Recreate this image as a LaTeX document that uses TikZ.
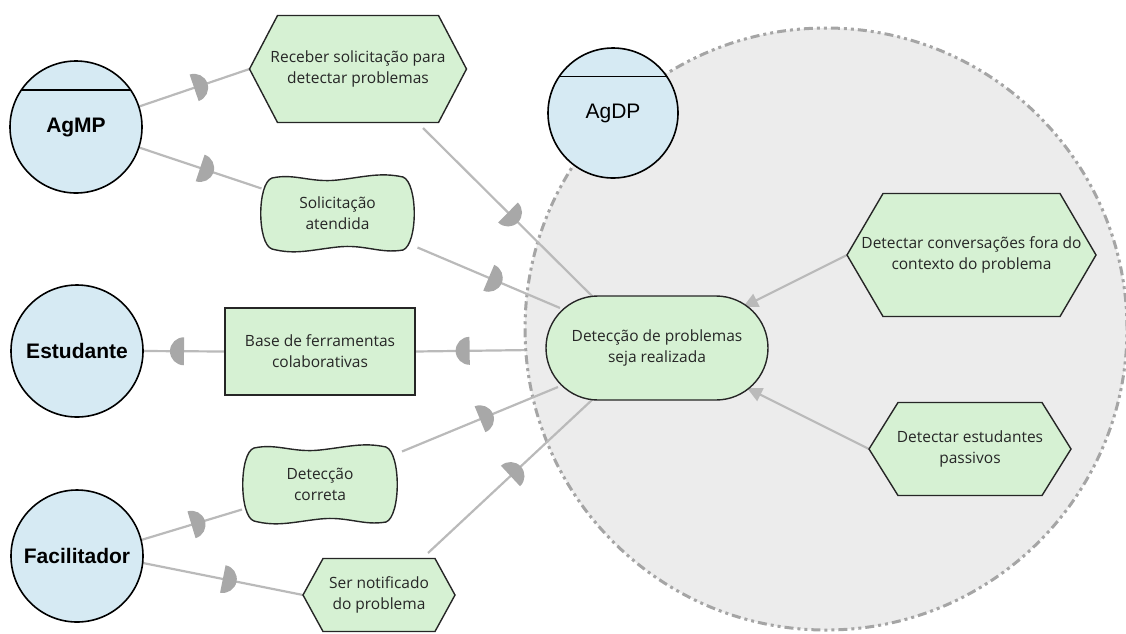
\documentclass[tikz,border=0pt]{standalone}
\usepackage{fontspec}
\setmainfont{Open Sans}
\newfontfamily\actorfont{Liberation Sans}
\usetikzlibrary{calc,arrows.meta,decorations.markings}

\pgfdeclarelayer{bg}
\pgfdeclarelayer{links}
\pgfdeclarelayer{shapes}
\pgfsetlayers{bg,links,shapes,main}

\definecolor{actfill}{RGB}{214,234,243}
\definecolor{elemfill}{RGB}{214,241,211}
\definecolor{bgfill}{RGB}{236,236,236}
\definecolor{linkgray}{RGB}{186,186,186}
\definecolor{dgray}{RGB}{168,168,168}
\definecolor{bndgray}{RGB}{165,165,165}
\definecolor{ink}{RGB}{38,38,38}

\tikzset{
  actor/.style={circle, draw=black, line width=1.6pt, fill=actfill,
    minimum size=132pt, inner sep=0pt, outer sep=0pt,
    font=\actorfont\bfseries\fontsize{21pt}{25pt}\selectfont},
  elemtext/.style={inner sep=0pt, outer sep=0pt, align=center, text=ink,
    font=\fontsize{15.5pt}{21pt}\selectfont},
  elemline/.style={draw=ink, line width=1.4pt, fill=elemfill, line join=miter},
  dep/.style={draw=linkgray, line width=2.2pt, postaction={decorate},
    decoration={markings, mark=at position 0.5 with {
      \fill[dgray] (0pt,-14pt) arc[start angle=-90, end angle=90, radius=14pt] -- cycle;}}},
  meansend/.style={draw=linkgray, line width=2.2pt,
    -{Triangle[length=15pt,width=14pt]}},
}

% hexagonal task outline centred on a node:
% #1 node, #2 half width of the flat edges, #3 half height, #4 pointer length
\newcommand{\drawhex}[4]{%
  \begin{scope}[shift={(#1.center)}]
    \draw[elemline] (-#2,-#3) -- (#2,-#3) -- (#2+#4,0) -- (#2,#3)
      -- (-#2,#3) -- (-#2-#4,0) -- cycle;
  \end{scope}}

% wavy softgoal outline around a text node: #1 node, #2 half width, #3 half height
\newcommand{\drawsoft}[3]{%
  \begin{scope}[shift={(#1.center)}]
    \draw[elemline]
      (-#2+12,-#3+1) .. controls (-#2+35,-#3-4) and (-0.35*#2,-#3+6) .. (0,-#3+3)
      .. controls (0.35*#2,-#3) and (#2-35,-#3-5) .. (#2-12,-#3)
      .. controls (#2+3,-#3+6) and (#2+3,#3-6) .. (#2-12,#3)
      .. controls (#2-35,#3+4) and (0.35*#2,#3-6) .. (0,#3-3)
      .. controls (-0.35*#2,#3) and (-#2+35,#3+5) .. (-#2+12,#3-1)
      .. controls (-#2-3,#3-6) and (-#2-3,-#3+6) .. (-#2+12,-#3+1) -- cycle;
  \end{scope}}

\begin{document}
\begin{tikzpicture}[x=1pt, y=-1pt]
\useasboundingbox (0,0) rectangle (1126,633);

% actor boundary of AgDP
\begin{pgfonlayer}{bg}
  \node[circle, minimum size=602pt, inner sep=0pt, fill=bgfill, draw=bndgray,
    line width=3pt, dash pattern=on 9pt off 4pt on 3pt off 4pt on 3pt off 4pt]
    (bnd) at (826,329) {};
\end{pgfonlayer}

% actors
\node[actor] (agmp) at (76,127) {AgMP};
\draw[line width=1.6pt] (agmp.34) -- (agmp.146);
\node[actor, minimum size=130pt, font=\actorfont\fontsize{21pt}{25pt}\selectfont]
  (agdp) at (613,113) {AgDP};
\draw[line width=1.6pt] (agdp.34) -- (agdp.146);
\node[actor] (est) at (77,351) {Estudante};
\node[actor] (fac) at (77,556) {Facilitador};

% tasks
\node[elemtext] (t1) at (358,69) {Receber solicitação para\\detectar problemas};
\node[elemtext] (conv) at (971.5,255) {Detectar conversações fora do\\contexto do problema};
\node[elemtext] (pas) at (970,449) {Detectar estudantes\\passivos};
\node[elemtext] (ser) at (379,595) {Ser notificado\\do problema};

% softgoals
\node[elemtext] (sg1) at (337.5,213.5) {Solicitação\\atendida};
\node[elemtext] (sg2) at (320,484.5) {Detecção\\correta};

% resource
\node[elemtext, elemline, minimum width=190pt, minimum height=87pt] (res) at (320,351.5)
  {Base de ferramentas\\colaborativas};

% goal
\node[elemtext, elemline, rounded corners=52pt, minimum width=222pt, minimum height=104pt]
  (goal) at (657,348) {Detecção de problemas\\seja realizada};

\begin{pgfonlayer}{shapes}
  \drawhex{t1}{80.5}{53.5}{28}
  \drawhex{conv}{88.5}{61.5}{36}
  \drawhex{pas}{72}{46.5}{29}
  \drawhex{ser}{56}{36.5}{20}
  \drawsoft{sg1}{77.5}{36.5}
  \drawsoft{sg2}{78}{37.5}
\end{pgfonlayer}

% pointer tips of the tasks
\coordinate (t1tip) at ($(t1.center)+(-108.5,0)$);
\coordinate (convtip) at ($(conv.center)+(-124.5,0)$);
\coordinate (pastip) at ($(pas.center)+(-101,0)$);
\coordinate (sertip) at ($(ser.center)+(-76,0)$);

% dependencies and means-end links
\begin{pgfonlayer}{links}
  \draw[dep] (agmp.18) -- (t1tip);
  \draw[dep] ($(t1.center)+(65,59)$) -- ($(goal.center)+(-64,-51)$);
  \draw[dep] (agmp.-18) -- ($(sg1.center)+(-76,-25)$);
  \draw[dep] ($(sg1.center)+(80,34)$) -- ($(goal.center)+(-97,-40)$);
  \draw[dep] (bnd.184) -- (res.east);
  \draw[dep] (res.west) -- (est.east);
  \draw[dep] (fac.14) -- ($(sg2.center)+(-78,25)$);
  \draw[dep] ($(sg2.center)+(82,-33)$) -- ($(goal.center)+(-99,39)$);
  \draw[dep] (fac.-6) -- (sertip);
  \draw[dep] ($(ser.center)+(49,-42)$) -- ($(goal.center)+(-64,51)$);
  \draw[meansend] (convtip) -- ($(goal.center)+(86,-41)$);
  \draw[meansend] (pastip) -- ($(goal.center)+(90,40)$);
\end{pgfonlayer}
\end{tikzpicture}
\end{document}
